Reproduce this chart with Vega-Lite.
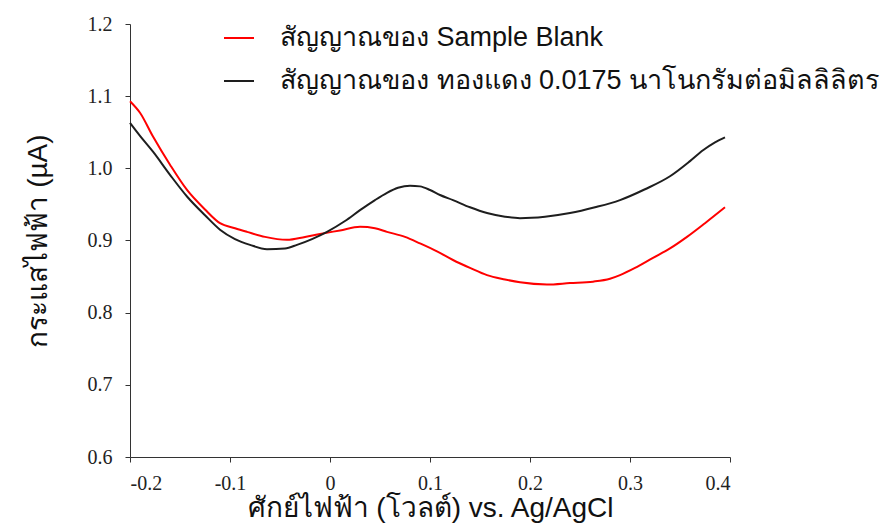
{
  "$schema": "https://vega.github.io/schema/vega-lite/v6.json",
  "width": 600,
  "height": 433,
  "autosize": "none",
  "padding": {"left": 130, "top": 24, "right": 158, "bottom": 67},
  "background": "white",
  "config": {
    "view": {"stroke": null},
    "axis": {
      "grid": false,
      "domainColor": "#333",
      "tickColor": "#333",
      "tickSize": 5,
      "labelFont": "Liberation Serif",
      "labelFontSize": 20,
      "labelColor": "#222",
      "titleFont": "Liberation Sans",
      "titleFontSize": 28,
      "titleFontWeight": "normal",
      "titleColor": "#111"
    }
  },
  "data": {
    "values": [
      {"s": "blank", "x": -0.2, "y": 1.093},
      {"s": "blank", "x": -0.19, "y": 1.077},
      {"s": "blank", "x": -0.177, "y": 1.044},
      {"s": "blank", "x": -0.16, "y": 1.005},
      {"s": "blank", "x": -0.143, "y": 0.97},
      {"s": "blank", "x": -0.125, "y": 0.943},
      {"s": "blank", "x": -0.11, "y": 0.924},
      {"s": "blank", "x": -0.095, "y": 0.917},
      {"s": "blank", "x": -0.083, "y": 0.912},
      {"s": "blank", "x": -0.065, "y": 0.905},
      {"s": "blank", "x": -0.043, "y": 0.901},
      {"s": "blank", "x": -0.025, "y": 0.905},
      {"s": "blank", "x": -0.01, "y": 0.909},
      {"s": "blank", "x": 0.01, "y": 0.914},
      {"s": "blank", "x": 0.03, "y": 0.919},
      {"s": "blank", "x": 0.045, "y": 0.917},
      {"s": "blank", "x": 0.057, "y": 0.912},
      {"s": "blank", "x": 0.075, "y": 0.905},
      {"s": "blank", "x": 0.09, "y": 0.896},
      {"s": "blank", "x": 0.107, "y": 0.885},
      {"s": "blank", "x": 0.123, "y": 0.873},
      {"s": "blank", "x": 0.14, "y": 0.862},
      {"s": "blank", "x": 0.157, "y": 0.852},
      {"s": "blank", "x": 0.175, "y": 0.846},
      {"s": "blank", "x": 0.19, "y": 0.842},
      {"s": "blank", "x": 0.217, "y": 0.839},
      {"s": "blank", "x": 0.24, "y": 0.841},
      {"s": "blank", "x": 0.263, "y": 0.843},
      {"s": "blank", "x": 0.28, "y": 0.847},
      {"s": "blank", "x": 0.29, "y": 0.852},
      {"s": "blank", "x": 0.305, "y": 0.862},
      {"s": "blank", "x": 0.323, "y": 0.876},
      {"s": "blank", "x": 0.34, "y": 0.889},
      {"s": "blank", "x": 0.357, "y": 0.905},
      {"s": "blank", "x": 0.375, "y": 0.924},
      {"s": "blank", "x": 0.395, "y": 0.946},
      {"s": "cu", "x": -0.2, "y": 1.063},
      {"s": "cu", "x": -0.19, "y": 1.045},
      {"s": "cu", "x": -0.177, "y": 1.023},
      {"s": "cu", "x": -0.16, "y": 0.991},
      {"s": "cu", "x": -0.143, "y": 0.961},
      {"s": "cu", "x": -0.125, "y": 0.935},
      {"s": "cu", "x": -0.11, "y": 0.915},
      {"s": "cu", "x": -0.095, "y": 0.902},
      {"s": "cu", "x": -0.08, "y": 0.894},
      {"s": "cu", "x": -0.063, "y": 0.888},
      {"s": "cu", "x": -0.045, "y": 0.889},
      {"s": "cu", "x": -0.033, "y": 0.894},
      {"s": "cu", "x": -0.018, "y": 0.902},
      {"s": "cu", "x": -0.003, "y": 0.912},
      {"s": "cu", "x": 0.015, "y": 0.927},
      {"s": "cu", "x": 0.03, "y": 0.942},
      {"s": "cu", "x": 0.045, "y": 0.956},
      {"s": "cu", "x": 0.057, "y": 0.966},
      {"s": "cu", "x": 0.068, "y": 0.973},
      {"s": "cu", "x": 0.08, "y": 0.976},
      {"s": "cu", "x": 0.09, "y": 0.975},
      {"s": "cu", "x": 0.1, "y": 0.97},
      {"s": "cu", "x": 0.11, "y": 0.963},
      {"s": "cu", "x": 0.123, "y": 0.956},
      {"s": "cu", "x": 0.14, "y": 0.946},
      {"s": "cu", "x": 0.157, "y": 0.938},
      {"s": "cu", "x": 0.175, "y": 0.933},
      {"s": "cu", "x": 0.19, "y": 0.931},
      {"s": "cu", "x": 0.215, "y": 0.933},
      {"s": "cu", "x": 0.24, "y": 0.938},
      {"s": "cu", "x": 0.265, "y": 0.946},
      {"s": "cu", "x": 0.29, "y": 0.956},
      {"s": "cu", "x": 0.315, "y": 0.971},
      {"s": "cu", "x": 0.34, "y": 0.989},
      {"s": "cu", "x": 0.36, "y": 1.01},
      {"s": "cu", "x": 0.373, "y": 1.025},
      {"s": "cu", "x": 0.385, "y": 1.036},
      {"s": "cu", "x": 0.395, "y": 1.043}
    ]
  },
  "mark": {"type": "line", "strokeWidth": 2, "interpolate": "monotone"},
  "encoding": {
    "x": {
      "field": "x", "type": "quantitative",
      "scale": {"domain": [-0.2, 0.4], "nice": false, "zero": false},
      "axis": {
        "values": [-0.2, -0.1, 0, 0.1, 0.2, 0.3, 0.4],
        "labelExpr": "datum.value == 0 ? '0' : replace(format(datum.value, '.1f'), '\u2212', '-')",
        "labelPadding": 11,
        "title": "ศักย์ไฟฟ้า (โวลต์) vs. Ag/AgCl",
        "titleFontWeight": "normal",
        "titlePadding": 1
      }
    },
    "y": {
      "field": "y", "type": "quantitative",
      "scale": {"domain": [0.6, 1.2], "nice": false, "zero": false},
      "axis": {
        "values": [0.6, 0.7, 0.8, 0.9, 1.0, 1.1, 1.2],
        "format": ".1f",
        "labelPadding": 13,
        "title": "กระแสไฟฟ้า (µA)",
        "titleFontSize": 28,
        "titleFontWeight": "normal",
        "titlePadding": 35
      }
    },
    "color": {
      "field": "s", "type": "nominal",
      "scale": {"domain": ["blank", "cu"], "range": ["#ff0000", "#1e1e1e"]},
      "legend": {
        "orient": "none",
        "legendX": 93,
        "legendY": -2,
        "title": null,
        "symbolType": "stroke",
        "symbolSize": 900,
        "symbolStrokeWidth": 2,
        "labelFont": "Liberation Sans",
        "labelFontSize": 27,
        "labelColor": "#111",
        "labelOffset": 25,
        "labelLimit": 800,
        "rowPadding": 14,
        "labelExpr": "datum.value == 'blank' ? 'สัญญาณของ Sample Blank' : 'สัญญาณของ ทองแดง 0.0175 นาโนกรัมต่อมิลลิลิตร'"
      }
    }
  }
}
